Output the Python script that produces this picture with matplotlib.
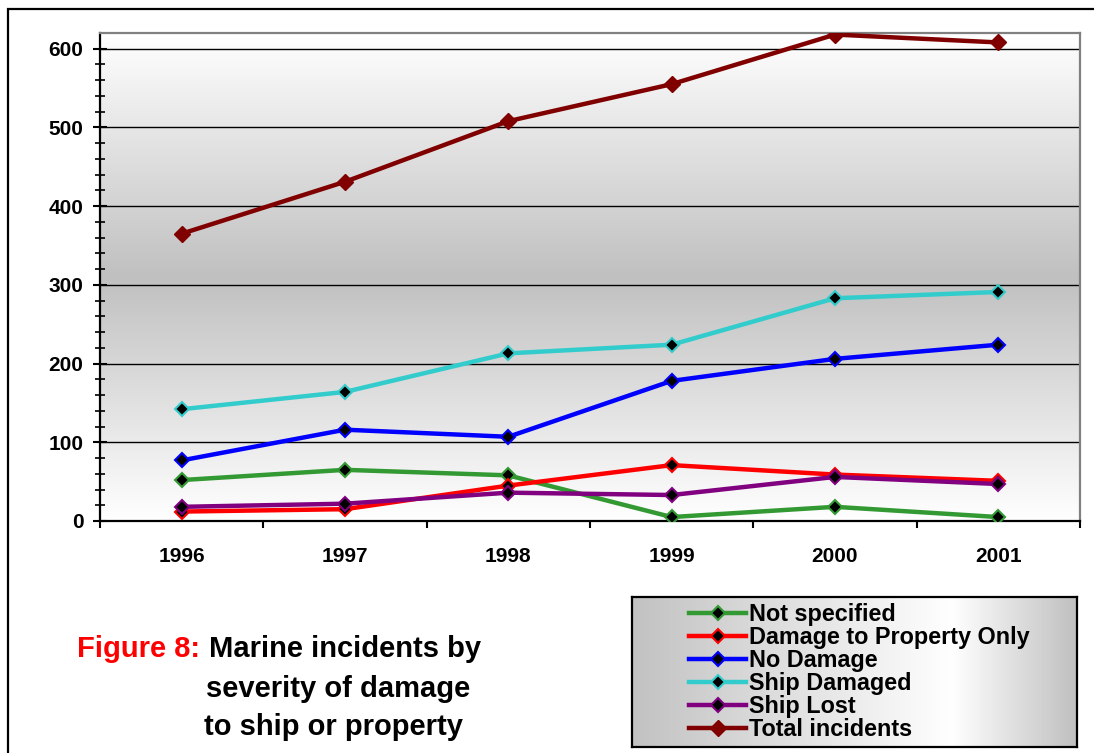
import numpy as np
import matplotlib
matplotlib.use('Agg')
from matplotlib import pyplot as plt
from matplotlib.colors import LinearSegmentedColormap
from matplotlib.patches import Rectangle

years = ['1996', '1997', '1998', '1999', '2000', '2001']
not_specified = [52, 65, 58, 5, 18, 5]
damage_property = [12, 15, 45, 71, 59, 51]
no_damage = [77, 116, 107, 178, 206, 224]
ship_damaged = [142, 164, 213, 224, 283, 291]
ship_lost = [18, 22, 36, 33, 56, 47]
total = [365, 431, 508, 555, 618, 608]

labels = ['Not specified', 'Damage to Property Only', 'No Damage',
          'Ship Damaged', 'Ship Lost', 'Total incidents']
colors = ['#339933', '#ff0000', '#0000ff', '#33cccc', '#800080', '#800000']

plt.rcParams['font.family'] = ['Liberation Sans', 'DejaVu Sans']
plt.rcParams['font.weight'] = 'bold'

W, H = 1094, 753
fig = plt.figure(figsize=(W / 100, H / 100), dpi=100)


def px_box(x0, y0, x1, y1):
    # pixel box (top-left origin) -> figure fraction rect
    return [x0 / W, 1 - y1 / H, (x1 - x0) / W, (y1 - y0) / H]


# outer frame (right/bottom edges fall outside the picture)
fig.add_artist(Rectangle((8 / W, -0.2), 1.2, 1.2 - 9 / H, fill=False,
                         lw=1.6, ec='black', transform=fig.transFigure))

# plot area with vertical gradient
pos = px_box(100, 33, 1080, 521)
bg = fig.add_axes(pos, zorder=0)
grad_v = LinearSegmentedColormap.from_list('gv', ['#ffffff', '#c0c0c0', '#ffffff'])
bg.imshow(np.linspace(0, 1, 256).reshape(-1, 1), cmap=grad_v, aspect='auto',
          extent=[0, 1, 0, 1])
bg.axis('off')

ax = fig.add_axes(pos, zorder=1)
ax.patch.set_alpha(0)

x = np.arange(len(years))
series = [not_specified, damage_property, no_damage, ship_damaged, ship_lost, total]
for i, (vals, lab, col) in enumerate(zip(series, labels, colors)):
    if i == 5:
        ax.plot(x, vals, color=col, lw=3.2, marker='D', ms=8.5,
                mfc=col, mec=col, label=lab, zorder=3 + i)
    else:
        ax.plot(x, vals, color=col, lw=3.2, marker='D', ms=7.5,
                mfc='black', mec=col, mew=1.5, label=lab, zorder=3 + i)

ax.set_xlim(-0.5, len(years) - 0.5)
ax.set_ylim(0, 620)
ax.set_yticks(np.arange(0, 601, 100))
ax.set_yticks(np.arange(0, 620, 20), minor=True)
ax.yaxis.grid(True, which='major', color='black', lw=1.0)
ax.set_axisbelow(True)
ax.tick_params(axis='y', which='major', direction='inout', length=10, width=1.5,
               pad=7, labelsize=15)
ax.tick_params(axis='y', which='minor', direction='inout', length=7, width=1.2)

ax.set_xticks(np.arange(-0.5, len(years), 1.0))
ax.set_xticklabels([])
ax.set_xticks(x, minor=True)
ax.set_xticklabels(years, minor=True)
ax.tick_params(axis='x', which='major', direction='out', length=5, width=1.5)
ax.tick_params(axis='x', which='minor', length=0, pad=19, labelsize=15)

for side in ['left', 'bottom']:
    ax.spines[side].set_color('black')
    ax.spines[side].set_linewidth(1.6)
for side in ['top', 'right']:
    ax.spines[side].set_color('#808080')
    ax.spines[side].set_linewidth(1.6)

# legend box with horizontal gradient
lbox = px_box(632, 597, 1077, 747)
lg_ax = fig.add_axes(lbox, zorder=2)
grad_h = LinearSegmentedColormap.from_list(
    'gh', [(0, '#c2c2c2'), (0.72, '#ffffff'), (1, '#c0c0c0')])
lg_ax.imshow(np.linspace(0, 1, 256).reshape(1, -1), cmap=grad_h, aspect='auto',
             extent=[0, 1, 0, 1])
lg_ax.set_xticks([])
lg_ax.set_yticks([])
for s in lg_ax.spines.values():
    s.set_linewidth(1.6)
    s.set_color('black')

handles, labs = ax.get_legend_handles_labels()
leg = fig.legend(handles, labs, loc='upper left',
                 bbox_to_anchor=(689 / W, 1 - 603 / H),
                 frameon=False, fontsize=16.8, handlelength=2.45,
                 handletextpad=0.12, labelspacing=0.0, borderpad=0,
                 borderaxespad=0)
leg.set_zorder(5)

# caption
fig.text(77 / W, 1 - 657 / H, 'Figure 8:', color='red', fontsize=21,
         fontweight='bold', va='baseline')
fig.text(209 / W, 1 - 657 / H, 'Marine incidents by', color='black',
         fontsize=21, fontweight='bold', va='baseline')
fig.text(206 / W, 1 - 697 / H, 'severity of damage', color='black',
         fontsize=21, fontweight='bold', va='baseline')
fig.text(204 / W, 1 - 735 / H, 'to ship or property', color='black',
         fontsize=21, fontweight='bold', va='baseline')

fig.savefig('out.png', dpi=100)
